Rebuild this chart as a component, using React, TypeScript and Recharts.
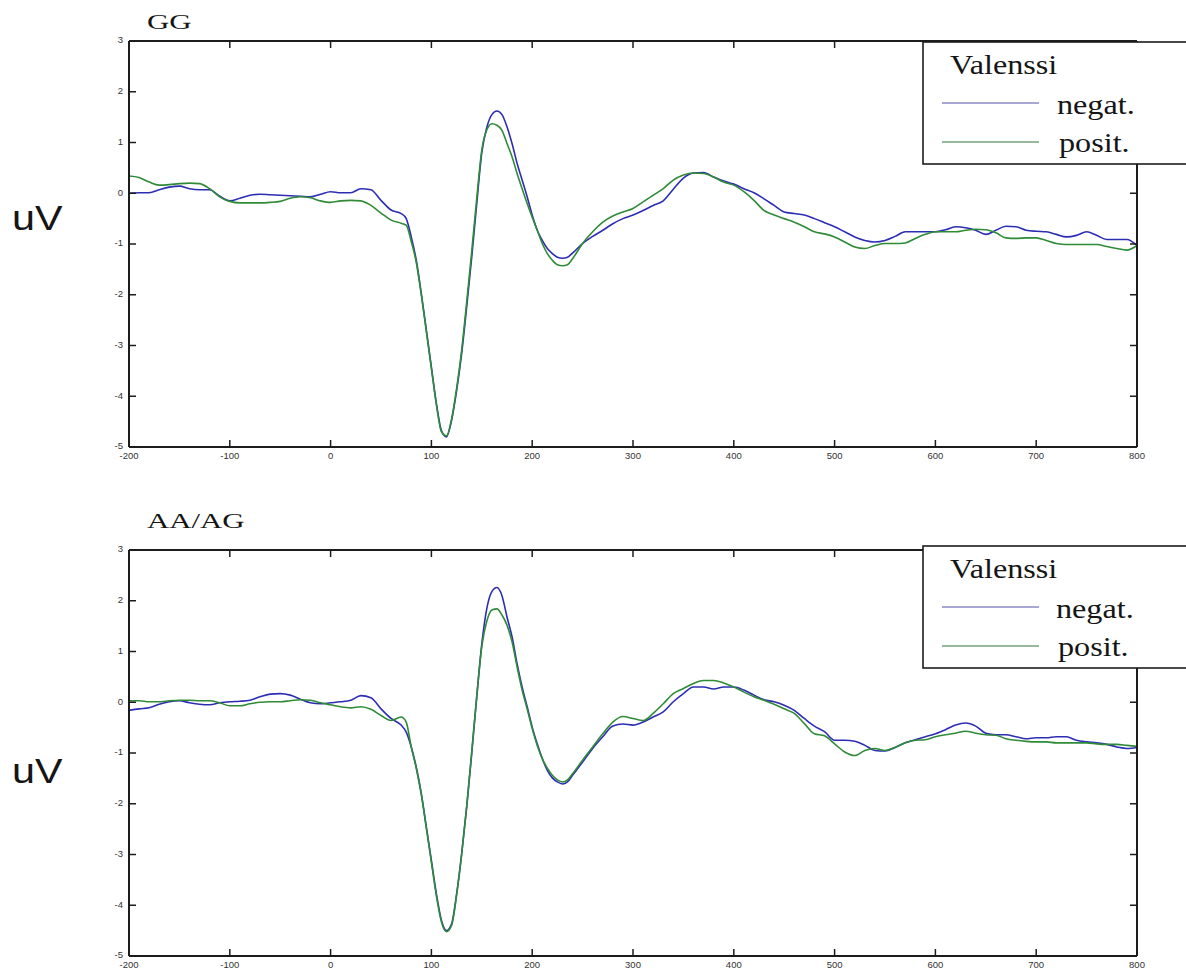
import { LineChart, Line, XAxis, YAxis } from "recharts";

// time in ms, values in uV
const TIME = [
  -200, -190, -180, -170, -160, -150, -140, -130, -120, -110,
  -100, -90, -80, -70, -60, -50, -40, -30, -20, -10,
  0, 10, 20, 30, 40, 50, 60, 70,
  75, 80, 85, 90, 95, 100, 105, 110, 115, 120,
  125, 130, 135, 140, 145, 150, 155, 160, 165, 170,
  175, 180, 185, 190, 195, 200, 205, 210, 215, 220,
  225, 230, 235, 240,
  250, 260, 270, 280, 290, 300, 310, 320, 330, 340,
  350, 360, 370, 380, 390, 400, 410, 420, 430, 440,
  450, 460, 470, 480, 490, 500, 510, 520, 530, 540,
  550, 560, 570, 580, 590, 600, 610, 620, 630, 640,
  650, 660, 670, 680, 690, 700, 710, 720, 730, 740,
  750, 760, 770, 780, 790, 800,
];

const GG_NEGAT = [
  0.0, 0.01, 0.01, 0.07, 0.12, 0.14, 0.09, 0.07, 0.07, -0.06,
  -0.15, -0.1, -0.04, -0.02, -0.03, -0.04, -0.05, -0.06, -0.07, -0.02,
  0.03, 0.01, 0.01, 0.09, 0.07, -0.14, -0.33, -0.4,
  -0.5, -0.86, -1.32, -1.98, -2.7, -3.43, -4.15, -4.68, -4.8, -4.48,
  -3.89, -3.16, -2.24, -1.26, -0.2, 0.8, 1.3, 1.55, 1.62, 1.55,
  1.31, 0.98, 0.59, 0.26, -0.07, -0.43, -0.73, -0.93, -1.09, -1.19,
  -1.26, -1.28, -1.26, -1.18,
  -0.99, -0.85, -0.73, -0.6, -0.5, -0.43, -0.34, -0.24, -0.15, 0.08,
  0.3, 0.4, 0.41, 0.32, 0.24, 0.18, 0.09, 0.01, -0.11, -0.24,
  -0.37, -0.4, -0.43, -0.5, -0.58, -0.66, -0.76, -0.86, -0.93, -0.96,
  -0.93, -0.85, -0.76, -0.76, -0.76, -0.76, -0.72, -0.66, -0.68, -0.73,
  -0.81, -0.73, -0.65, -0.66, -0.73, -0.75, -0.76, -0.81, -0.86, -0.83,
  -0.76, -0.83, -0.91, -0.91, -0.91, -1.03,
];

const GG_POSIT = [
  0.34, 0.31, 0.22, 0.16, 0.17, 0.19, 0.2, 0.19, 0.09, -0.07,
  -0.16, -0.19, -0.19, -0.19, -0.18, -0.16, -0.1, -0.07, -0.09, -0.15,
  -0.18, -0.15, -0.14, -0.15, -0.24, -0.39, -0.53, -0.59,
  -0.63, -0.95, -1.36, -2.0, -2.72, -3.45, -4.17, -4.7, -4.78, -4.45,
  -3.85, -3.1, -2.15, -1.15, -0.1, 0.85, 1.25, 1.37, 1.34, 1.24,
  0.98, 0.72, 0.39, 0.09, -0.2, -0.47, -0.73, -0.99, -1.19, -1.32,
  -1.41, -1.43, -1.41, -1.29,
  -0.99, -0.76, -0.57, -0.45, -0.37, -0.3, -0.17, -0.04, 0.09, 0.26,
  0.36, 0.4, 0.39, 0.32, 0.22, 0.16, 0.03, -0.14, -0.34, -0.43,
  -0.5, -0.57, -0.66, -0.76, -0.8, -0.86, -0.96, -1.06, -1.09, -1.03,
  -0.99, -0.99, -0.98, -0.89, -0.81, -0.76, -0.76, -0.76, -0.73, -0.71,
  -0.72, -0.78, -0.88, -0.89, -0.88, -0.88, -0.93, -0.99, -1.01, -1.01,
  -1.01, -1.01, -1.05, -1.09, -1.12, -1.03,
];

const AAAG_NEGAT = [
  -0.16, -0.13, -0.11, -0.04, 0.01, 0.03, -0.01, -0.04, -0.05, -0.01,
  0.01, 0.02, 0.04, 0.11, 0.16, 0.17, 0.14, 0.06, -0.01, -0.03,
  -0.01, 0.01, 0.04, 0.13, 0.09, -0.13, -0.32, -0.45,
  -0.59, -0.88, -1.28, -1.8, -2.46, -3.12, -3.78, -4.3, -4.5, -4.37,
  -3.78, -2.99, -2.07, -1.01, 0.11, 1.15, 1.85, 2.18, 2.26, 2.1,
  1.68, 1.29, 0.76, 0.3, -0.09, -0.49, -0.82, -1.11, -1.34, -1.49,
  -1.57, -1.61, -1.57, -1.44,
  -1.18, -0.91, -0.68, -0.47, -0.43, -0.45, -0.39, -0.29, -0.19, 0.01,
  0.17, 0.3, 0.3, 0.26, 0.3, 0.3, 0.24, 0.14, 0.05, 0.01,
  -0.06, -0.16, -0.32, -0.47, -0.58, -0.75, -0.75, -0.77, -0.85, -0.95,
  -0.96, -0.89, -0.8, -0.74, -0.68, -0.62, -0.54, -0.45, -0.41, -0.47,
  -0.61, -0.64, -0.64, -0.68, -0.72, -0.7, -0.7, -0.68, -0.68, -0.75,
  -0.78, -0.8, -0.83, -0.88, -0.91, -0.89,
];

const AAAG_POSIT = [
  0.03, 0.03, 0.01, 0.01, 0.03, 0.04, 0.04, 0.03, 0.03, -0.01,
  -0.07, -0.07, -0.03, 0.0, 0.01, 0.01, 0.03, 0.05, 0.04, -0.01,
  -0.05, -0.09, -0.11, -0.09, -0.14, -0.26, -0.36, -0.29,
  -0.39, -0.88, -1.3, -1.82, -2.48, -3.15, -3.82, -4.33, -4.52, -4.4,
  -3.8, -3.0, -2.05, -0.98, 0.12, 1.1, 1.6, 1.82, 1.84, 1.72,
  1.52, 1.19, 0.7, 0.24, -0.13, -0.52, -0.85, -1.11, -1.3, -1.44,
  -1.53, -1.57, -1.53, -1.41,
  -1.14, -0.88, -0.62, -0.39, -0.28, -0.32, -0.36, -0.22, -0.03, 0.17,
  0.27, 0.37, 0.43, 0.43, 0.38, 0.3, 0.2, 0.11, 0.04, -0.04,
  -0.13, -0.22, -0.42, -0.62, -0.66, -0.82, -0.98, -1.05, -0.95, -0.91,
  -0.95, -0.89, -0.8, -0.75, -0.74, -0.68, -0.64, -0.61, -0.57, -0.61,
  -0.64, -0.65, -0.72, -0.75, -0.77, -0.78, -0.78, -0.8, -0.8, -0.8,
  -0.8, -0.82, -0.83, -0.83, -0.85, -0.87,
];

const X_TICKS = [-200, -100, 0, 100, 200, 300, 400, 500, 600, 700, 800];
const Y_TICKS = [-5, -4, -3, -2, -1, 0, 1, 2, 3];
const LEGEND_TITLE = "Valenssi";
const NEGAT_LABEL = "negat.";
const POSIT_LABEL = "posit.";
const PANEL_TITLES = ["GG", "AA/AG"];
const Y_LABEL = "uV";

const NEGAT_COLOR = "#2d2db4";
const POSIT_COLOR = "#2f8b37";
const AXIS = "#1c1c1c";
const SERIF = "'Liberation Serif', 'Times New Roman', serif";
const SANS = "'Liberation Sans', Arial, sans-serif";

const tickFont = { fontSize: 9.5, fill: "#333", fontFamily: SANS };
const axisLine = { stroke: AXIS, strokeWidth: 2 };
const tickLine = { stroke: AXIS, strokeWidth: 1.5 };
const noLabel = () => <g />;

function buildRows(negat: number[], posit: number[]) {
  return TIME.map((t, i) => ({ t, negat: negat[i], posit: posit[i] }));
}

// matlab-style box: mirrored axes give the inward tick marks on all four sides
function Panel({ top, rows }: { top: number; rows: any[] }) {
  const xProps = {
    type: "number" as const,
    dataKey: "t",
    domain: [-200, 800],
    ticks: X_TICKS,
    interval: 0 as const,
    allowDataOverflow: true,
  };
  const yProps = {
    type: "number" as const,
    domain: [-5, 3],
    ticks: Y_TICKS,
    interval: 0 as const,
    allowDataOverflow: true,
  };
  return (
    <div style={{ position: "absolute", left: 0, top, width: 1186, height: 480 }}>
      <LineChart width={1186} height={480} data={rows} margin={{ top: 41, right: 49, bottom: 0, left: 0 }}>
        <XAxis xAxisId="b" {...xProps} height={33} tickSize={0} tickMargin={5} axisLine={false} tickLine={false} tick={tickFont} />
        <XAxis xAxisId="bm" {...xProps} mirror height={10} tickSize={7} axisLine={axisLine} tickLine={tickLine} tick={noLabel} />
        <XAxis xAxisId="tm" {...xProps} orientation="top" mirror height={10} tickSize={7} axisLine={axisLine} tickLine={tickLine} tick={noLabel} />
        <YAxis yAxisId="l" {...yProps} width={129} tickSize={0} tickMargin={6} axisLine={false} tickLine={false} tick={{ ...tickFont, dy: -1 }} />
        <YAxis yAxisId="lm" {...yProps} mirror width={10} tickSize={7} axisLine={axisLine} tickLine={tickLine} tick={noLabel} />
        <YAxis yAxisId="rm" {...yProps} orientation="right" mirror width={10} tickSize={7} axisLine={axisLine} tickLine={tickLine} tick={noLabel} />
        <Line
          xAxisId="b"
          yAxisId="l"
          dataKey="negat"
          type="monotone"
          stroke={NEGAT_COLOR}
          strokeWidth={1.6}
          dot={false}
          isAnimationActive={false}
        />
        <Line
          xAxisId="b"
          yAxisId="l"
          dataKey="posit"
          type="monotone"
          stroke={POSIT_COLOR}
          strokeWidth={1.6}
          dot={false}
          isAnimationActive={false}
        />
      </LineChart>
    </div>
  );
}

function Stretch({ x, y, sx, size, family, children }: any) {
  return (
    <text transform={`translate(${x},${y}) scale(${sx},1)`} fontSize={size} fontFamily={family} fill="#151515">
      {children}
    </text>
  );
}

function LegendBox({ top, negX }: { top: number; negX: number }) {
  return (
    <g>
      <rect x={923} y={top} width={300} height={122} fill="#fff" stroke={AXIS} strokeWidth={1.6} />
      <Stretch x={950} y={top + 32} sx={1.15} size={28} family={SERIF}>{LEGEND_TITLE}</Stretch>
      <line x1={942} x2={1039} y1={top + 61} y2={top + 61} stroke="#8a8ac6" strokeWidth={1.6} />
      <Stretch x={negX} y={top + 72} sx={1.15} size={28} family={SERIF}>{NEGAT_LABEL}</Stretch>
      <line x1={942} x2={1039} y1={top + 100} y2={top + 100} stroke="#76a07a" strokeWidth={1.6} />
      <Stretch x={negX + 2} y={top + 110} sx={1.15} size={28} family={SERIF}>{POSIT_LABEL}</Stretch>
    </g>
  );
}

export default function App() {
  const ggRows = buildRows(GG_NEGAT, GG_POSIT);
  const aaRows = buildRows(AAAG_NEGAT, AAAG_POSIT);
  return (
    <div
      style={{
        position: "absolute",
        left: 0,
        top: 0,
        width: 1186,
        height: 972,
        overflow: "hidden",
        background: "#fff",
      }}
    >
      <Panel top={0} rows={ggRows} />
      <Panel top={509} rows={aaRows} />
      <svg width={1186} height={972} style={{ position: "absolute", left: 0, top: 0, pointerEvents: "none" }}>
        <Stretch x={147} y={29} sx={1.4} size={22} family={SERIF}>{PANEL_TITLES[0]}</Stretch>
        <Stretch x={147} y={528} sx={1.4} size={22} family={SERIF}>{PANEL_TITLES[1]}</Stretch>
        <Stretch x={12} y={230} sx={1.18} size={35} family={SANS}>{Y_LABEL}</Stretch>
        <Stretch x={12} y={783} sx={1.18} size={35} family={SANS}>{Y_LABEL}</Stretch>
        <LegendBox top={42} negX={1057} />
        <LegendBox top={546} negX={1056} />
      </svg>
    </div>
  );
}
